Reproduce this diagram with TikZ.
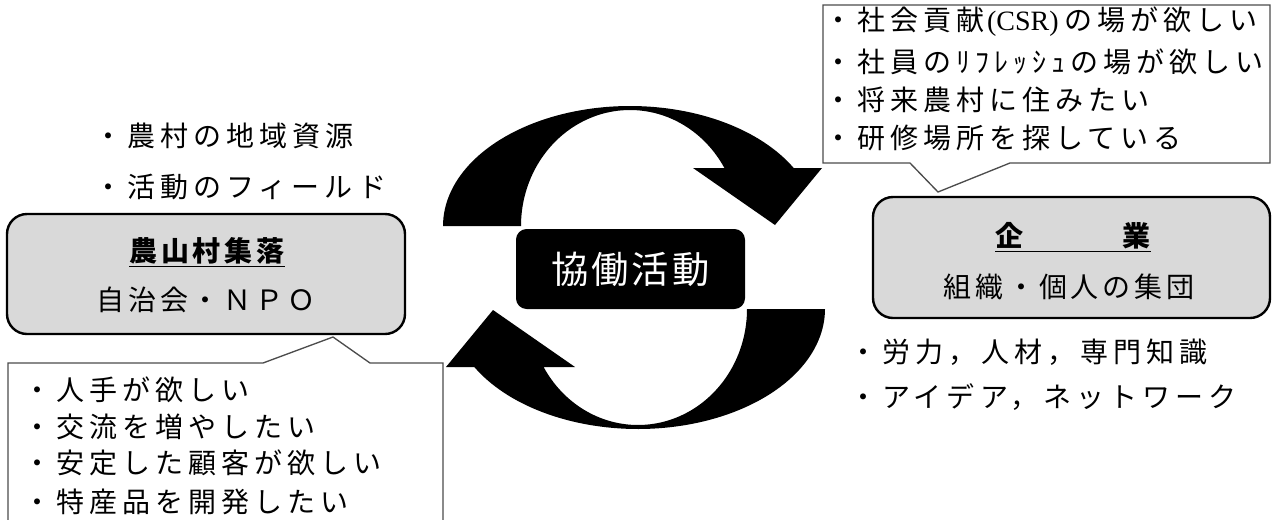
\documentclass[tikz,border=0pt]{standalone}
\usepackage{fontspec}
\setmainfont{Liberation Serif}
\newfontfamily\jp[LetterSpace=14]{Noto Sans CJK JP}
\newfontfamily\jpw[LetterSpace=18]{Noto Sans CJK JP}
\newfontfamily\jpc[LetterSpace=8]{Noto Sans CJK JP}
\newcommand{\latinpart}[1]{\hspace{2pt}{\rmfamily #1}\hspace{4pt}}
\tikzset{
  bigarrow/.style={fill=black, draw=none},
  callout/.style={draw=black!70, line width=1pt, fill=white},
  graybox/.style={draw=black, line width=1.8pt, fill=gray!30, rounded corners=15pt, inner sep=0pt},
  centerbox/.style={fill=black, draw=none, rounded corners=8pt, inner sep=0pt, text=white,
    font=\jpc\fontsize{28}{34}\selectfont},
  txt/.style={inner sep=0pt, anchor=west, font=\jpw\fontsize{21}{28}\selectfont},
  ctxt/.style={inner sep=0pt, anchor=center, font=\jp\fontsize{21}{28}\selectfont},
  btxt/.style={inner sep=0pt, anchor=center, font=\jp\bfseries\fontsize{21}{28}\selectfont},
}
\begin{document}
\begin{tikzpicture}[x=0.75pt, y=-0.75pt]
\useasboundingbox (0,0) rectangle (1272,519);
\clip (0,0) rectangle (1272,519);

% callouts
\draw[callout] (8,530) -- (8,363) -- (263,363) -- (333,337) -- (370,363) -- (443,363) -- (443,530);
\draw[callout] (823,5) -- (1270,5) -- (1270,163) -- (1010,163) -- (938,192) -- (910,163) -- (823,163) -- cycle;

% curved arrows
\fill[bigarrow] plot[domain=180:28.9, samples=80] ({630+187*cos(\x)}, {226-120*sin(\x)})
   -- (822,168) -- (775,225) -- (693,168) -- (724.4,168)
   -- plot[domain=30:180, samples=80] ({630+109*cos(\x)}, {226-116*sin(\x)}) -- cycle;
\begin{scope}[rotate around={180:(634,267.5)}]
\fill[bigarrow] plot[domain=180:28.9, samples=80] ({630+187*cos(\x)}, {226-120*sin(\x)})
   -- (822,168) -- (775,225) -- (693,168) -- (724.4,168)
   -- plot[domain=30:180, samples=80] ({630+109*cos(\x)}, {226-116*sin(\x)}) -- cycle;
\end{scope}

% boxes
\node[graybox, minimum width=298.5pt, minimum height=90pt] (left) at (206,274) {};
\node[graybox, minimum width=297.75pt, minimum height=90.75pt] (right) at (1071.5,257.5) {};
\node[centerbox, minimum width=171.75pt, minimum height=60pt] (center) at (630.5,269) {協働活動};

% box texts
\node[btxt] (ltitle) at (207,252) {\underline{農山村集落}};
\node[ctxt] (lsub) at (206,300) {自治会・ＮＰＯ};
\node[btxt] (rtitle) at (1073,237) {\underline{企　　　業}};
\node[ctxt] (rsub) at (1069,287) {組織・個人の集団};

% top-left resources
\node[txt] (tl1) at (94,136) {・農村の地域資源};
\node[txt] (tl2) at (94,187) {・活動のフィールド};

% left callout lines
\node[txt] (l1) at (23,390) {・人手が欲しい};
\node[txt] (l2) at (23,427) {・交流を増やしたい};
\node[txt] (l3) at (23,463) {・安定した顧客が欲しい};
\node[txt] (l4) at (23,502) {・特産品を開発したい};

% top-right callout lines
\node[txt] (t1) at (824,22) {・社会貢献\latinpart{(CSR)}の場が欲しい};
\node[txt] (t2) at (824,62) {・社員のﾘﾌﾚｯｼｭの場が欲しい};
\node[txt] (t3) at (824,100) {・将来農村に住みたい};
\node[txt] (t4) at (824,138) {・研修場所を探している};

% right resources
\node[txt] (br1) at (849,352) {・労力，人材，専門知識};
\node[txt] (br2) at (849,397) {・アイデア，ネットワーク};
\end{tikzpicture}
\end{document}
